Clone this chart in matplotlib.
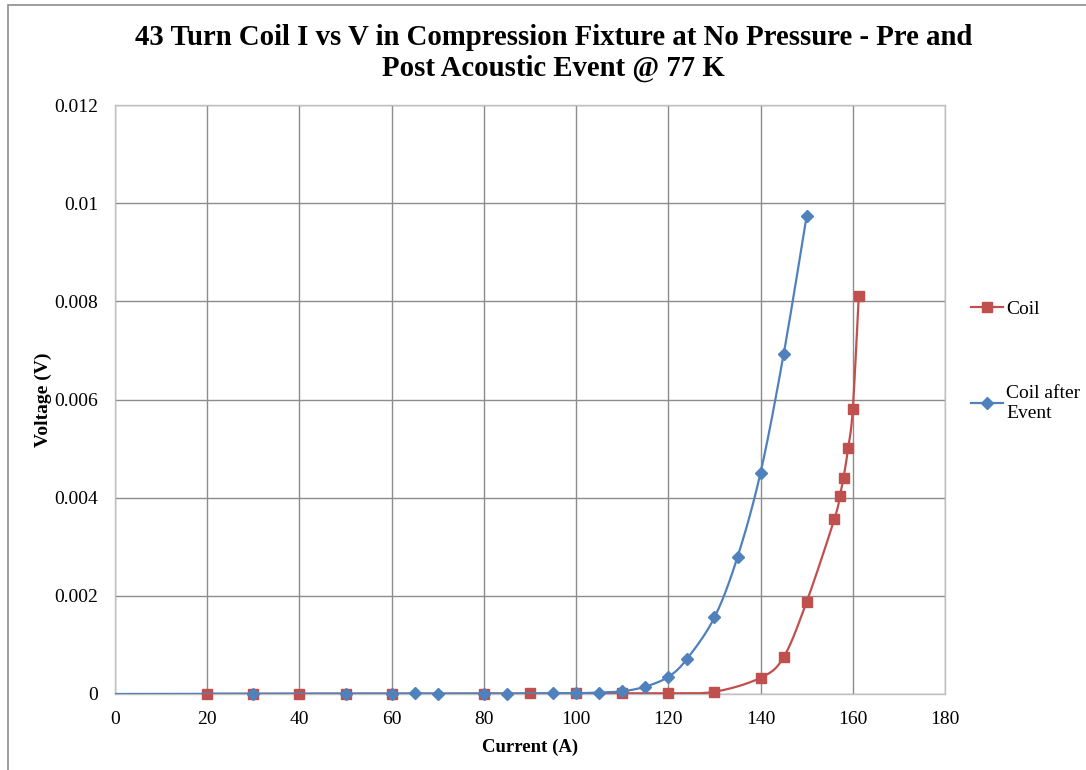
import numpy as np
import matplotlib
matplotlib.use('Agg')
import matplotlib.pyplot as plt
from matplotlib.patches import Rectangle

plt.rcParams['font.family'] = ['Liberation Serif', 'DejaVu Serif']

# data
coil_i = [20, 30, 40, 50, 60, 80, 90, 100, 110, 120, 130, 140, 145, 150,
          156, 157.2, 158, 159, 160, 161.3]
coil_v = [0.000005, 0.000005, 0.000003, 0.000008, 0.000008, 0.00001, 0.000012,
          0.000012, 0.000015, 0.000015, 0.000045, 0.00033, 0.00075, 0.00188,
          0.00356, 0.00404, 0.00441, 0.00501, 0.0058, 0.00811]

event_i = [0, 30, 50, 60, 65, 70, 80, 85, 95, 100, 105, 110, 115, 120, 124,
           130, 135, 140, 145, 150]
event_v = [0.0, 0.000005, 0.000008, 0.00001, 0.000012, 0.000006, 0.00001,
           0.000006, 0.000015, 0.000015, 0.00003, 0.000055, 0.00015, 0.00035,
           0.00071, 0.00156, 0.00279, 0.00451, 0.00692, 0.00974]

red = '#C0504D'
blue = '#4F81BD'


def smooth(x, y, n=30):
    # excel style smoothed line (catmull-rom through the points)
    x = np.asarray(x, float)
    y = np.asarray(y, float)
    px = np.concatenate([[x[0]], x, [x[-1]]])
    py = np.concatenate([[y[0]], y, [y[-1]]])
    t = np.linspace(0, 1, n)
    xs, ys = [], []
    for k in range(1, len(px) - 2):
        x0, x1, x2, x3 = px[k - 1:k + 3]
        y0, y1, y2, y3 = py[k - 1:k + 3]
        cx1, cy1 = x1 + (x2 - x0) / 6, y1 + (y2 - y0) / 6
        cx2, cy2 = x2 - (x3 - x1) / 6, y2 - (y3 - y1) / 6
        b0 = (1 - t) ** 3
        b1 = 3 * (1 - t) ** 2 * t
        b2 = 3 * (1 - t) * t ** 2
        b3 = t ** 3
        xs.append(b0 * x1 + b1 * cx1 + b2 * cx2 + b3 * x2)
        ys.append(b0 * y1 + b1 * cy1 + b2 * cy2 + b3 * y2)
    return np.concatenate(xs), np.concatenate(ys)


fig = plt.figure(figsize=(10.86, 7.7), dpi=100)
ax = fig.add_axes([115 / 1086, 1 - 694 / 770, 830 / 1086, 589 / 770])

sx, sy = smooth(coil_i, coil_v)
ax.plot(sx, sy, color=red, lw=1.6, zorder=3)
ax.plot(coil_i, coil_v, 's', color=red, ms=7, zorder=4, clip_on=False)

sx, sy = smooth(event_i, event_v)
ax.plot(sx, sy, color=blue, lw=1.6, zorder=5)
ax.plot(event_i[1:], event_v[1:], 'D', color=blue, ms=6, zorder=6, clip_on=False)

ax.set_xlim(0, 180)
ax.set_ylim(0, 0.012)
ax.set_xticks(np.arange(0, 181, 20))
ax.set_yticks([0, 0.002, 0.004, 0.006, 0.008, 0.01, 0.012])
ax.set_yticklabels(['0', '0.002', '0.004', '0.006', '0.008', '0.01', '0.012'])
ax.grid(True, color='#8c8c8c', lw=1)
ax.set_axisbelow(True)
for s in ax.spines.values():
    s.set_color('#bfbfbf')
    s.set_linewidth(1)
ax.tick_params(length=0, labelsize=14)
ax.tick_params(axis='y', pad=12)
ax.tick_params(axis='x', pad=12)

ax.set_xlabel('Current (A)', fontsize=13.5, fontweight='bold', labelpad=8)
ax.set_ylabel('Voltage (V)', fontsize=14, fontweight='bold', labelpad=2)

fig.text(0.51, 1 - 53 / 770,
         '43 Turn Coil I vs V in Compression Fixture at No Pressure - Pre and\nPost Acoustic Event @ 77 K',
         ha='center', va='center', fontsize=20.7, fontweight='bold', linespacing=1.15)

# legend entries
h1, = ax.plot([], [], '-s', color=red, ms=7, lw=1.6)
h2, = ax.plot([], [], '-D', color=blue, ms=6, lw=1.6)
fig.legend([h1, h2], ['Coil', 'Coil after\nEvent'], loc='upper left',
           bbox_to_anchor=(953 / 1086, 1 - 283 / 770), frameon=False,
           fontsize=14, labelspacing=3.45, handlelength=1.65, handletextpad=0.2)

fig.patches.append(Rectangle((8 / 1086, -0.1), 1.2, 1.1 - 5 / 770,
                             transform=fig.transFigure, fill=False,
                             edgecolor='#8c8c8c', lw=1.2))

fig.savefig('out.png', dpi=100)
